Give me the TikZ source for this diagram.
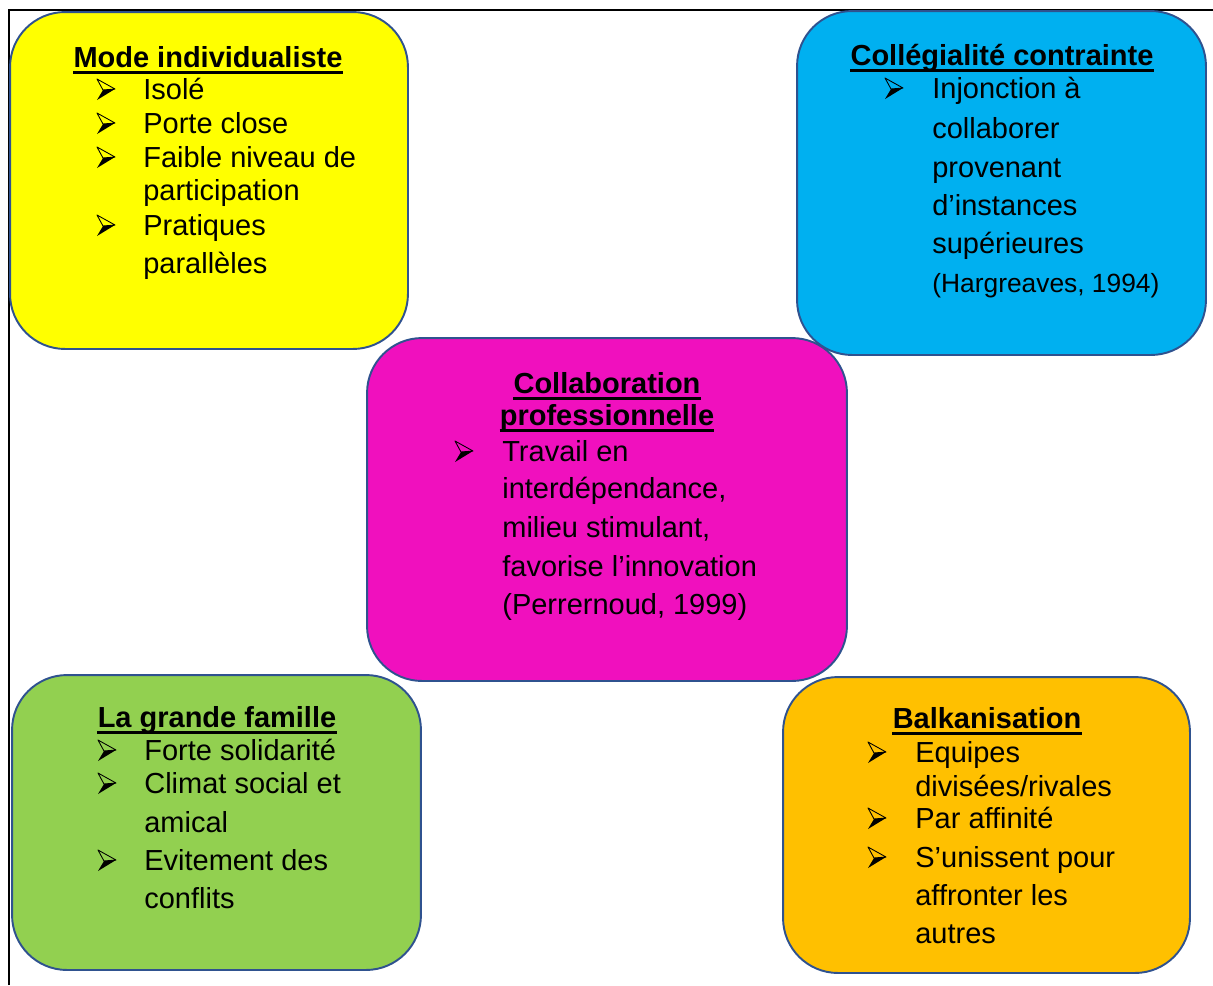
\documentclass[tikz,border=0pt]{standalone}
\usepackage{fontspec}
\setmainfont{Liberation Sans}

\definecolor{jaune}{HTML}{FFFF00}
\definecolor{bleu}{HTML}{00B0F0}
\definecolor{rose}{HTML}{F010BE}
\definecolor{vert}{HTML}{92D050}
\definecolor{ambre}{HTML}{FFC000}
\definecolor{bord}{HTML}{2F528F}

\tikzset{
  boite/.style={draw=bord, line width=1.1pt, rounded corners=1.1cm},
  titre/.style={anchor=base, inner sep=0pt, font=\bfseries\fontsize{16.5}{19}\selectfont},
  ligne/.style={anchor=base west, inner sep=0pt, font=\fontsize{16.5}{19}\selectfont},
  souligne/.style={line width=1.7pt},
  puce/.pic={
    \draw[line width=0.5pt, line join=round] (0,-20) -- (18,-10) -- (6,-9) -- cycle;
    \fill (6,-9) -- (18,-10) -- (0,1) -- cycle;
  }
}

\begin{document}
\begin{tikzpicture}[x=0.02cm,y=-0.02cm]
	\useasboundingbox (0,0) rectangle (1213,985);
	\draw[line width=1.1pt] (9,985) -- (9,10) -- (1213,10);

	% les cinq cadres
	\node[boite,fill=jaune,minimum width=7.96cm,minimum height=6.74cm] (jaune) at (209,180.5) {};
	\node[boite,fill=bleu,minimum width=8.18cm,minimum height=6.88cm] (bleu) at (1001.5,183) {};
	\node[boite,fill=vert,minimum width=8.18cm,minimum height=5.9cm] (vert) at (216.5,822.5) {};
	\node[boite,fill=ambre,minimum width=8.14cm,minimum height=5.92cm] (ambre) at (986.5,825) {};
	\node[boite,fill=rose,minimum width=9.6cm,minimum height=6.86cm] (rose) at (607,509.5) {};

	% titres
	\node[titre] (tjaune) at (208,67)   {Mode individualiste};
	\node[titre] (tbleu)  at (1002,65)  {Collégialité contrainte};
	\node[titre] (trose1) at (607,393)  {Collaboration};
	\node[titre] (trose2) at (607,425)  {professionnelle};
	\node[titre] (tvert)  at (217,727)  {La grande famille};
	\node[titre] (tambre) at (987,728)  {Balkanisation};
	\foreach \t in {tjaune,tbleu,trose1,trose2,tvert,tambre}
		\draw[souligne] ([yshift=-0.1cm]\t.base west) -- ([yshift=-0.1cm]\t.base east);

	% Mode individualiste
	\foreach \y/\t [count=\i] in {99/Isolé, 133/Porte close, 167/Faible niveau de, 200/participation, 235/Pratiques, 273/parallèles}
		\node[ligne] (jaune-\i) at (143,\y) {\t};
	\foreach \y in {99,133,167,235}
		\pic at (97,\y) {puce};

	% Collégialité contrainte
	\foreach \y/\t [count=\i] in {98/Injonction à, 138/collaborer, 177/provenant, 215/d’instances, 253/supérieures}
		\node[ligne] (bleu-\i) at (932,\y) {\t};
	\node[ligne,font=\fontsize{15}{18}\selectfont] (bleu-6) at (932,292) {(Hargreaves, 1994)};
	\pic at (885,98) {puce};

	% Collaboration professionnelle
	\foreach \y/\t [count=\i] in {461/Travail en, 498/{interdépendance,}, 537/{milieu stimulant,}, 576/favorise l’innovation, 614/{(Perrernoud, 1999)}}
		\node[ligne] (rose-\i) at (502,\y) {\t};
	\pic at (455,461) {puce};

	% La grande famille
	\foreach \y/\t [count=\i] in {760/Forte solidarité, 793/Climat social et, 832/amical, 870/Evitement des, 908/conflits}
		\node[ligne] (vert-\i) at (144,\y) {\t};
	\foreach \y in {760,793,870}
		\pic at (98,\y) {puce};

	% Balkanisation
	\foreach \y/\t [count=\i] in {762/Equipes, 796/{divisées/rivales}, 828/Par affinité, 867/S’unissent pour, 905/affronter les, 943/autres}
		\node[ligne] (ambre-\i) at (915,\y) {\t};
	\foreach \y in {762,828,867}
		\pic at (868,\y) {puce};
\end{tikzpicture}
\end{document}
